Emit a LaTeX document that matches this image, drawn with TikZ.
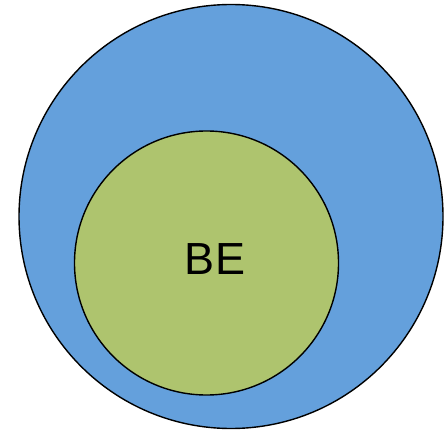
\documentclass[tikz,border=0pt]{standalone}
\usepackage{fontspec}
\setmainfont{Liberation Sans}
\definecolor{outerblue}{HTML}{64A0DC}
\definecolor{innergreen}{HTML}{AEC46E}
\begin{document}
\begin{tikzpicture}[x=1pt,y=-1pt,
  ring/.style={draw=black,line width=1.4pt}]
\useasboundingbox (0,0) rectangle (446,430);
\node[ring,circle,fill=outerblue,minimum size=424pt,inner sep=0pt] (outer) at (231,216.5) {};
\node[ring,circle,fill=innergreen,minimum size=264pt,inner sep=0pt] (inner) at (206.5,263) {};
\node[font=\fontsize{45}{54}\selectfont,anchor=base] (label) at (215,274) {BE};
\end{tikzpicture}
\end{document}
